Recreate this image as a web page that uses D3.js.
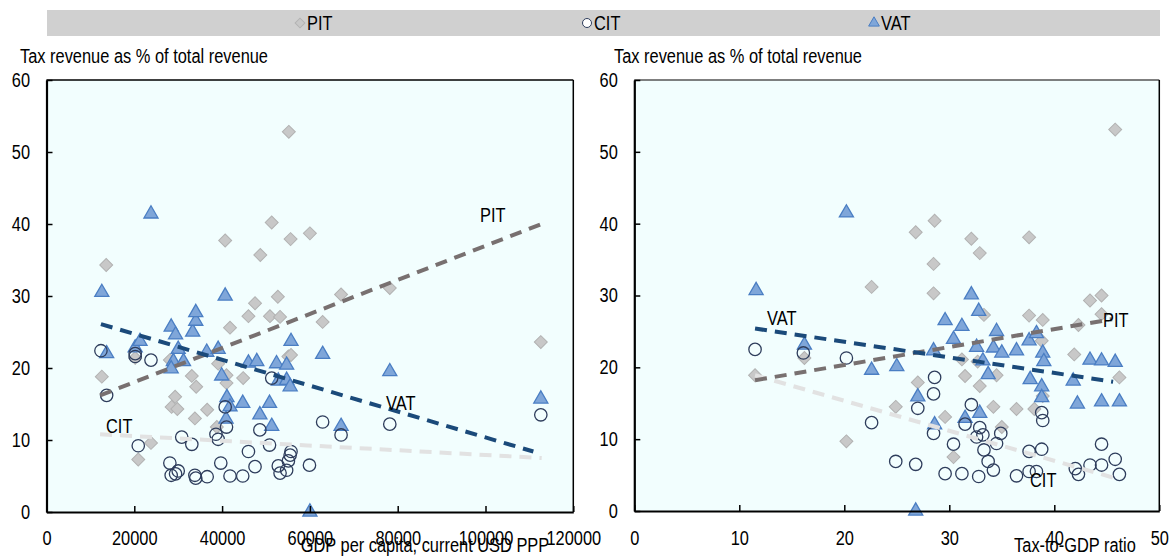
<!DOCTYPE html>
<html><head><meta charset="utf-8">
<script src="https://cdn.jsdelivr.net/npm/d3@7"></script>
<style>
body{margin:0;background:#fff}
svg text{font-family:"Liberation Sans Narrow","Arial Narrow","Liberation Sans",Arial,sans-serif;fill:#000}
</style>
</head><body>
<svg id="c" width="1171" height="560"></svg>
<script>
// ---------- DATA ----------
const seriesNames = ["PIT", "CIT", "VAT"];
const gdpTicks = [0, 20000, 40000, 60000, 80000, 100000, 120000];
const ratioTicks = [0, 10, 20, 30, 40, 50];
const shareTicks = [0, 10, 20, 30, 40, 50, 60];
const yTitle = "Tax revenue as % of total revenue";
const xTitleLeft = "GDP per capita, current USD PPP";
const xTitleRight = "Tax-to-GDP ratio";

// Left panel: [GDP per capita, % of total revenue]
const pitByGdp = [[13600,34.3],[12600,18.8],[20900,7.3],[23800,9.6],[20200,21.4],[28100,21.1],[29300,16.0],[28500,14.6],[29800,14.3],[33100,18.9],[34100,17.4],[33800,13.0],[36600,14.2],[38800,11.8],[39100,20.6],[41000,19.0],[41000,17.9],[44800,18.6],[41800,25.6],[40700,37.7],[46000,27.2],[47500,29.0],[48700,35.7],[50900,27.2],[51300,40.2],[52700,29.9],[53200,27.1],[55200,52.8],[55600,37.9],[55100,21.6],[55700,21.8],[60000,38.7],[62900,26.4],[67100,30.2],[78200,31.1],[112600,23.6]];
const vatByGdp = [[12600,30.5],[13700,22.0],[20200,22.8],[21300,23.7],[23800,41.4],[28400,25.7],[29400,24.6],[30000,22.6],[28900,20.9],[28400,19.9],[31200,20.9],[33300,25.0],[34000,26.5],[34000,27.7],[36500,22.2],[39100,22.6],[40700,30.0],[39900,18.9],[41100,15.9],[41800,14.6],[44700,15.1],[40900,12.9],[46000,20.7],[47900,20.9],[48600,13.5],[50800,15.1],[51300,11.9],[52400,20.6],[54700,20.4],[52800,18.2],[54700,18.3],[55500,17.4],[55700,23.7],[60000,0],[62900,21.9],[67100,11.9],[78200,19.5],[112600,15.7]];
const citByGdp = [[12400,22.4],[13700,16.2],[20200,22.0],[20200,21.6],[23800,21.1],[20900,9.2],[28100,6.8],[28400,5.1],[29400,5.3],[30000,5.7],[30800,10.4],[33100,9.4],[33800,5.1],[34000,4.7],[36600,4.9],[38600,10.8],[39100,10.1],[39700,6.8],[40700,14.6],[41000,11.8],[41800,5.0],[44700,5.0],[46000,8.4],[47500,6.3],[48600,11.4],[50800,9.3],[51300,18.6],[52800,6.4],[53200,5.4],[54700,5.8],[55100,7.1],[55500,7.9],[55700,8.4],[59900,6.5],[62900,12.5],[67100,10.7],[78200,12.2],[112600,13.5]];
const pitTrendGdp = [[12200,16.2],[112800,40.0]];
const vatTrendGdp = [[12400,26.1],[110900,8.4]];
const citTrendGdp = [[12200,10.8],[112800,7.5]];

// Right panel: [tax-to-GDP ratio, % of total revenue]
const pitByRatio = [[11.5,18.9],[16.2,21.3],[20.2,9.7],[22.6,31.2],[24.9,14.5],[26.8,38.8],[27.0,17.9],[28.5,34.4],[28.5,30.3],[28.6,40.4],[29.6,13.1],[30.4,7.5],[31.2,21.1],[31.5,18.8],[32.1,37.9],[32.7,20.8],[32.9,35.9],[32.9,17.4],[33.3,27.3],[34.2,14.5],[34.5,18.9],[35.0,11.7],[36.4,14.2],[37.6,38.1],[37.6,27.2],[38.1,14.2],[38.8,23.7],[38.9,26.6],[38.9,16.0],[41.9,21.8],[42.3,25.9],[43.4,29.3],[44.5,30.0],[44.5,27.4],[45.8,53.1],[46.2,18.6]];
const vatByRatio = [[11.6,30.7],[16.2,23.1],[20.2,41.5],[22.6,19.6],[25.0,20.1],[26.8,0],[27.0,15.9],[28.5,22.3],[28.6,12.0],[29.6,26.5],[30.4,23.9],[31.2,25.7],[31.5,12.9],[32.1,30.1],[32.6,22.8],[32.8,27.8],[32.9,13.6],[33.2,20.9],[33.7,19.0],[34.2,22.7],[34.5,25.0],[35.0,22.0],[36.4,22.3],[37.6,23.7],[37.7,18.3],[38.3,24.7],[38.8,17.3],[38.8,15.8],[38.9,22.0],[39.0,20.8],[41.8,18.1],[42.2,14.9],[43.4,21.0],[44.5,20.9],[44.5,15.2],[45.8,20.7],[46.2,15.2]];
const citByRatio = [[11.5,22.5],[16.1,22.0],[20.2,21.3],[22.6,12.3],[24.9,6.9],[26.8,6.5],[27.0,14.3],[28.5,16.3],[28.6,18.6],[28.5,10.8],[29.6,5.2],[30.4,9.3],[31.2,5.2],[31.5,12.1],[32.1,14.8],[32.6,10.3],[32.8,4.8],[32.9,11.6],[33.2,10.6],[33.3,8.5],[33.7,6.9],[34.2,5.7],[34.5,9.4],[34.9,10.8],[36.4,4.9],[37.6,8.3],[37.6,5.5],[38.3,5.5],[38.8,8.6],[38.8,13.7],[38.9,12.6],[42.0,5.9],[42.3,5.1],[43.4,6.4],[44.5,9.3],[44.5,6.4],[45.8,7.2],[46.2,5.1]];
const pitTrendRatio = [[11.5,18.2],[45.5,26.7]];
const vatTrendRatio = [[11.5,25.4],[45.6,18.0]];
const citTrendRatio = [[11.5,18.9],[46.2,4.4]];

// ---------- STYLE ----------
const C = {
  bg: "#f2fefe", legendBg: "#d0d0d0",
  pitFill: "#c8c8c8", pitStroke: "#b2b2b2",
  vatFill: "#7fa6d9", vatStroke: "#4a7ec3",
  citStroke: "#2e3d5c",
  pitTrend: "#787070", vatTrend: "#1b4a7a", citTrend: "#e2e2e2"
};
const svg = d3.select("#c");

// Legend
svg.append("rect").attr("x", 47).attr("y", 10).attr("width", 1113).attr("height", 26).attr("fill", C.legendBg);
const legendX = [300, 587, 874];
const diamondPath = d3.symbol(d3.symbolSquare, 48)();
const diamondPathBig = d3.symbol(d3.symbolSquare, 84)();
const triPath = d3.symbol(d3.symbolTriangle, 50)();
const triPathBig = d3.symbol(d3.symbolTriangle, 86)();
seriesNames.forEach((s, i) => {
  const g = svg.append("g").attr("transform", `translate(${legendX[i]},23)`);
  if (s === "PIT") g.append("path").attr("d", diamondPath).attr("transform", "rotate(45)").attr("fill", C.pitFill).attr("stroke", C.pitStroke);
  if (s === "CIT") g.append("circle").attr("r", 4.5).attr("fill", "#fff").attr("stroke", C.citStroke).attr("stroke-width", 1);
  if (s === "VAT") g.append("path").attr("d", triPath).attr("fill", C.vatFill).attr("stroke", C.vatStroke);
  g.append("text").attr("x", 7).attr("y", 7).attr("font-size", 20).text(s);
});

function panel(cfg) {
  const x = d3.scaleLinear().domain(cfg.xDomain).range([cfg.x0, cfg.x1]);
  const y = d3.scaleLinear().domain([0, 60]).range([cfg.y1, cfg.y0]);
  const g = svg.append("g");
  g.append("rect").attr("x", cfg.x0).attr("y", cfg.y0).attr("width", cfg.x1 - cfg.x0).attr("height", cfg.y1 - cfg.y0).attr("fill", C.bg);
  g.append("line").attr("x1", cfg.x0).attr("x2", cfg.x1).attr("y1", cfg.y0).attr("y2", cfg.y0).attr("stroke", cfg.topColor).attr("stroke-width", 1.5);
  g.append("line").attr("x1", cfg.x1).attr("x2", cfg.x1).attr("y1", cfg.y0).attr("y2", cfg.y1).attr("stroke", "#000").attr("stroke-width", 1.5);

  // markers
  g.append("g").selectAll("path").data(cfg.pit).join("path")
    .attr("d", diamondPathBig)
    .attr("transform", d => `translate(${x(d[0])},${y(d[1])}) rotate(45)`)
    .attr("fill", C.pitFill).attr("stroke", C.pitStroke).attr("stroke-width", 1);
  g.append("g").selectAll("path").data(cfg.vat).join("path")
    .attr("d", triPathBig)
    .attr("transform", d => `translate(${x(d[0])},${y(d[1])})`)
    .attr("fill", C.vatFill).attr("stroke", C.vatStroke).attr("stroke-width", 1.3);
  g.append("g").selectAll("circle").data(cfg.cit).join("circle")
    .attr("cx", d => x(d[0])).attr("cy", d => y(d[1])).attr("r", 6.2)
    .attr("fill", "none").attr("stroke", C.citStroke).attr("stroke-width", 1.3);

  // trend lines
  const line = d3.line().x(d => x(d[0])).y(d => y(d[1]));
  [[cfg.citT, C.citTrend], [cfg.pitT, C.pitTrend], [cfg.vatT, C.vatTrend]].forEach(([d, col]) => {
    g.append("path").attr("d", line(d)).attr("fill", "none").attr("stroke", col)
      .attr("stroke-width", 4).attr("stroke-dasharray", "12,8");
  });

  // labels
  cfg.labels.forEach(l => g.append("text").attr("x", l[1]).attr("y", l[2]).attr("font-size", 20).text(l[0]));

  // axes
  const ax = g.append("g").attr("transform", `translate(${cfg.x0},0)`)
    .call(d3.axisLeft(y).tickValues(shareTicks).tickSizeInner(-6).tickSizeOuter(0).tickPadding(16.5));
  const bx = g.append("g").attr("transform", `translate(0,${cfg.y1})`)
    .call(d3.axisBottom(x).tickValues(cfg.ticks).tickFormat(d3.format("d")).tickSizeInner(-6).tickSizeOuter(0).tickPadding(545 - cfg.y1 - 14.2));
  [ax, bx].forEach(a => {
    a.attr("font-size", 20).attr("font-family", null);
    a.select(".domain").attr("stroke", "#000").attr("stroke-width", 2.2);
    a.selectAll(".tick line").attr("stroke", "#000").attr("stroke-width", 1.5);
    a.selectAll(".tick text").attr("font-size", 20).attr("fill", "#000");
  });

  g.append("text").attr("x", cfg.titleX).attr("y", 63).attr("font-size", 20).text(yTitle);
  g.append("text").attr("x", cfg.xTitleX).attr("y", 552).attr("font-size", 20).attr("text-anchor", "middle").text(cfg.xTitle);
}

panel({
  x0: 46.5, x1: 573.3, y0: 80, y1: 512, xDomain: [0, 120000], ticks: gdpTicks,
  pit: pitByGdp, vat: vatByGdp, cit: citByGdp,
  pitT: pitTrendGdp, vatT: vatTrendGdp, citT: citTrendGdp,
  topColor: "#000", titleX: 20, xTitle: xTitleLeft, xTitleX: 425,
  labels: [["PIT", 480, 222], ["VAT", 386, 410], ["CIT", 106, 433]]
});
panel({
  x0: 634.3, x1: 1159.3, y0: 80, y1: 511, xDomain: [0, 50], ticks: ratioTicks,
  pit: pitByRatio, vat: vatByRatio, cit: citByRatio,
  pitT: pitTrendRatio, vatT: vatTrendRatio, citT: citTrendRatio,
  topColor: "#555", titleX: 614, xTitle: xTitleRight, xTitleX: 1075,
  labels: [["VAT", 767, 325], ["PIT", 1103, 327], ["CIT", 1030, 487]]
});

// Condense all text to mimic a narrow typeface (Arial Narrow ~82% width)
svg.selectAll("text").each(function () {
  const L = this.getComputedTextLength();
  if (L > 0) {
    this.setAttribute("textLength", (L * 0.82).toFixed(1));
    this.setAttribute("lengthAdjust", "spacingAndGlyphs");
  }
});
</script>
</body></html>
